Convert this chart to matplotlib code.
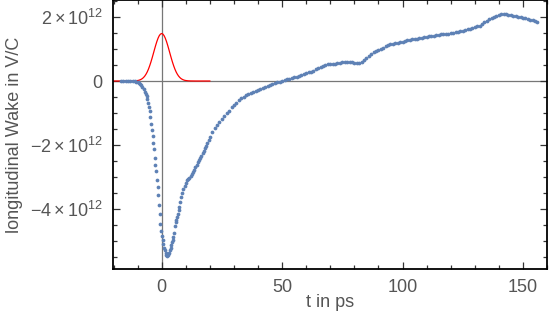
import numpy as np
import matplotlib
matplotlib.use("Agg")
import matplotlib.pyplot as plt
from matplotlib.ticker import MultipleLocator

# wake potential samples (t in ps, wake in units of 1e12 V/C)
t_wake = [-17, -16, -15, -14, -13, -12, -11, -10.5, -10, -9.5, -9, -8.5, -8, -7.5,
          -7, -6.5, -6.2, -5.9, -5.6, -5.3, -5, -4.7, -4.4, -4.1, -3.8, -3.5, -3.2,
          -2.9, -2.6, -2.3, -2, -1.7, -1.4, -1.1, -0.8, -0.5, -0.2, 0.1, 0.4, 0.7,
          1, 1.3, 1.6, 1.9, 2.2, 2.5, 2.8, 3.1, 3.4, 3.7, 4, 4.3, 4.6, 4.9, 5.2,
          5.5, 5.8, 6.1, 6.4, 6.7, 7, 7.3, 7.6, 8, 8.5, 9, 9.5, 10, 10.5, 11, 11.5,
          12, 12.5, 13, 13.5, 14, 14.5, 15, 15.5, 16, 16.5, 17, 17.5, 18, 18.5, 19,
          19.5, 20, 21, 22, 23, 24, 25, 26, 27, 28, 29, 30, 31, 32, 33, 34, 35, 36,
          37, 38, 39, 40, 41, 42, 43, 44, 45, 46, 47, 48, 49, 50, 51, 52, 53, 54,
          55, 56, 57, 58, 59, 60, 61, 62, 63, 64, 65, 66, 67, 68, 69, 70, 71, 72,
          73, 74, 75, 76, 77, 78, 79, 80, 81, 82, 83, 84, 85, 86, 87, 88, 89, 90,
          91, 92, 93, 94, 95, 96, 97, 98, 99, 100, 101, 102, 103, 104, 105, 106,
          107, 108, 109, 110, 111, 112, 113, 114, 115, 116, 117, 118, 119, 120,
          121, 122, 123, 124, 125, 126, 127, 128, 129, 130, 131, 132, 133, 134,
          135, 136, 137, 138, 139, 140, 141, 142, 143, 144, 145, 146, 147, 148,
          149, 150, 151, 152, 153, 154, 155, 156]
wake = [0.0, 0.0, 0.0, 0.0, 0.0, 0.0, -0.01, -0.02, -0.03, -0.05, -0.08, -0.13, -0.18,
        -0.25, -0.33, -0.41, -0.48, -0.56, -0.68, -0.80, -0.95, -1.12, -1.33, -1.52,
        -1.72, -1.93, -2.12, -2.40, -2.62, -2.82, -3.08, -3.30, -3.55, -3.85, -4.15,
        -4.45, -4.68, -4.82, -4.95, -5.09, -5.20, -5.28, -5.36, -5.42, -5.44, -5.43,
        -5.40, -5.35, -5.28, -5.21, -5.11, -5.03, -4.97, -4.86, -4.75, -4.52, -4.40,
        -4.34, -4.25, -4.14, -4.02, -3.92, -3.78, -3.63, -3.50, -3.38, -3.28, -3.18,
        -3.10, -3.05, -3.01, -2.96, -2.90, -2.84, -2.77, -2.69, -2.62, -2.54, -2.47,
        -2.40, -2.33, -2.25, -2.18, -2.10, -2.03, -1.94, -1.84, -1.74, -1.58, -1.46,
        -1.36, -1.27, -1.18, -1.09, -1.01, -0.94, -0.82, -0.74, -0.67, -0.60, -0.54,
        -0.49, -0.45, -0.41, -0.37, -0.34, -0.31, -0.28, -0.25, -0.21, -0.18, -0.15,
        -0.12, -0.09, -0.06, -0.04, -0.02, 0.00, 0.03, 0.05, 0.07, 0.09, 0.12, 0.14,
        0.17, 0.19, 0.22, 0.24, 0.27, 0.29, 0.32, 0.36, 0.39, 0.43, 0.48, 0.51, 0.53,
        0.54, 0.54, 0.54, 0.55, 0.56, 0.58, 0.58, 0.58, 0.58, 0.58, 0.57, 0.57, 0.57,
        0.60, 0.65, 0.72, 0.78, 0.84, 0.89, 0.93, 0.97, 1.01, 1.04, 1.08, 1.11, 1.14,
        1.16, 1.18, 1.20, 1.21, 1.23, 1.25, 1.27, 1.29, 1.30, 1.31, 1.32, 1.33, 1.34,
        1.36, 1.37, 1.39, 1.40, 1.41, 1.42, 1.44, 1.45, 1.46, 1.47, 1.48, 1.49, 1.50,
        1.52, 1.54, 1.56, 1.57, 1.59, 1.61, 1.63, 1.65, 1.68, 1.70, 1.73, 1.78, 1.83,
        1.88, 1.93, 1.97, 2.01, 2.04, 2.07, 2.09, 2.10, 2.09, 2.07, 2.06, 2.04, 2.02,
        2.00, 1.98, 1.96, 1.95, 1.93, 1.91, 1.89, 1.87, 1.84]

# bunch profile (red curve), same units
t_bunch = [-20, -18, -16, -14, -13, -12, -11, -10, -9.5, -9, -8.5, -8, -7.5, -7, -6.5,
           -6, -5.5, -5, -4.5, -4, -3.5, -3, -2.5, -2, -1.5, -1, -0.5, 0, 0.5, 1,
           1.5, 2, 2.5, 3, 3.5, 4, 4.5, 5, 5.5, 6, 6.5, 7, 7.5, 8, 8.5, 9, 9.5, 10,
           11, 12, 13, 14, 16, 18, 20]
bunch = [0.0, 0.0, 0.0, 0.0, 0.001, 0.002, 0.006, 0.015, 0.023, 0.036, 0.054, 0.078,
         0.112, 0.156, 0.213, 0.283, 0.369, 0.470, 0.584, 0.710, 0.843, 0.979, 1.111,
         1.232, 1.335, 1.414, 1.463, 1.48, 1.463, 1.414, 1.335, 1.232, 1.111, 0.979,
         0.843, 0.710, 0.584, 0.470, 0.369, 0.283, 0.213, 0.156, 0.112, 0.078, 0.054,
         0.036, 0.023, 0.015, 0.006, 0.002, 0.001, 0.0, 0.0, 0.0, 0.0]

ytick_vals = [-4e12, -2e12, 0, 2e12]
ytick_labels = [r"$-4\times10^{12}$", r"$-2\times10^{12}$", "0", r"$2\times10^{12}$"]
xtick_vals = [0, 50, 100, 150]

plt.rcParams["font.family"] = ["Liberation Sans", "DejaVu Sans"]
plt.rcParams["mathtext.fontset"] = "custom"
plt.rcParams["mathtext.rm"] = "Liberation Sans"
plt.rcParams["mathtext.it"] = "Liberation Sans"

text_color = "#555555"

fig = plt.figure(figsize=(5.49, 3.29), dpi=100)
ax = fig.add_axes([0.205, 0.1824, 0.7914, 0.8161])

ax.axhline(0, color="#777777", lw=0.9, zorder=1)
ax.axvline(0, color="#777777", lw=0.9, zorder=1)

ax.plot(t_bunch, np.array(bunch) * 1e12, color="red", lw=0.9, zorder=2)
ax.plot(t_wake, np.array(wake) * 1e12, "o", color="#5E81B5", ms=2.7, mew=0,
        zorder=3)

ax.set_xlim(-20.4, 160)
ax.set_ylim(-5.86e12, 2.51e12)

ax.set_xticks(xtick_vals)
ax.set_xticklabels([str(v) for v in xtick_vals])
ax.xaxis.set_minor_locator(MultipleLocator(10))
ax.set_yticks(ytick_vals)
ax.set_yticklabels(ytick_labels)
ax.yaxis.set_minor_locator(MultipleLocator(0.5e12))

ax.tick_params(which="both", direction="in", top=True, right=True,
               color="#333333", labelsize=13, labelcolor=text_color)
ax.tick_params(which="major", length=5, width=0.9, pad=7)
ax.tick_params(which="minor", length=3, width=0.9)

for s in ax.spines.values():
    s.set_color("black")
    s.set_linewidth(1.3)

ax.set_xlabel("t in ps", fontsize=13, color=text_color)
ax.set_ylabel("longitudinal Wake in V/C", fontsize=13, color=text_color)
ax.xaxis.set_label_coords(0.5, -0.095)
ax.yaxis.set_label_coords(-0.205, 0.5)

fig.savefig("out.png", dpi=100)
